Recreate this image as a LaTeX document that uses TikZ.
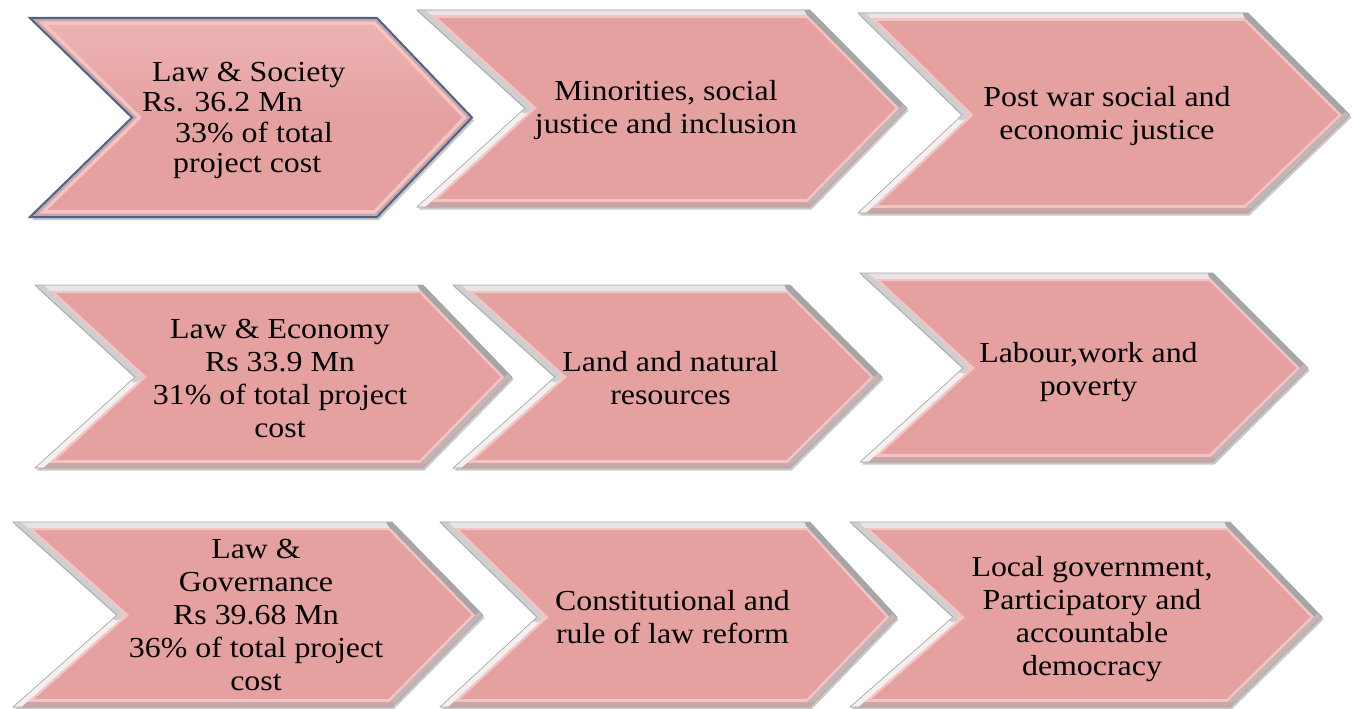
\documentclass[tikz,border=0pt]{standalone}
\usepackage{fontspec}
\setmainfont{Liberation Serif}[FakeStretch=1.1]
\definecolor{pinkc}{HTML}{E5A0A0}
\definecolor{pinktop}{HTML}{EDB4B4}
\definecolor{hilite}{HTML}{F4C4C4}
\definecolor{rimtop}{HTML}{EAE4E4}
\definecolor{rimdark}{HTML}{A6A6A6}
\definecolor{rimmid}{HTML}{C4B4B4}
\definecolor{rimbot}{HTML}{CBA6A6}
\definecolor{rimwhite}{HTML}{F4F0F0}
\definecolor{rimgray}{HTML}{CFCFCF}
\definecolor{navyc}{HTML}{4F6289}
\definecolor{shadowc}{HTML}{C8C8C8}
\tikzset{
  lbl/.style={align=center, inner sep=0pt, font=\fontsize{29}{33}\selectfont, text=black},
  lblA/.style={align=left, inner sep=0pt, font=\fontsize{29}{30.5}\selectfont, text=black},
  rim/.style={line width=11pt, line cap=round},
}
% #1 name, #2 xl, #3 yt, #4 yb, #5 notch x, #6 corner x, #7 tip x, #8 ym
\newcommand\chev[8]{%
  \coordinate (#1a) at (#2,#3);
  \coordinate (#1b) at (#6,#3);
  \coordinate (#1c) at (#7,#8);
  \coordinate (#1d) at (#6,#4);
  \coordinate (#1e) at (#2,#4);
  \coordinate (#1f) at (#5,#8);
  \fill[shadowc] ([shift={(1.5,2.5)}]#1a) -- ([shift={(1.5,2.5)}]#1b) -- ([shift={(1.5,2.5)}]#1c) -- ([shift={(1.5,2.5)}]#1d) -- ([shift={(1.5,2.5)}]#1e) -- ([shift={(1.5,2.5)}]#1f) -- cycle;
  \fill[pinkc] (#1a) -- (#1b) -- (#1c) -- (#1d) -- (#1e) -- (#1f) -- cycle;
  \begin{scope}
    \clip (#1a) -- (#1b) -- (#1c) -- (#1d) -- (#1e) -- (#1f) -- cycle;
    \draw[hilite, line width=16pt, line join=miter] (#1a) -- (#1b) -- (#1c) -- (#1d) -- (#1e) -- (#1f) -- cycle;
    \draw[rim, rimtop] (#1a) -- (#1b);
    \draw[rim, rimdark] (#1b) -- (#1c);
    \draw[rim, rimmid] (#1c) -- (#1d);
    \draw[rim, rimbot] (#1d) -- (#1e);
    \draw[rim, rimwhite] (#1e) -- (#1f);
    \draw[rim, rimgray] (#1f) -- (#1a);
  \end{scope}
  \draw[black!35, line width=0.6pt] (#1a) -- (#1b) -- (#1c) -- (#1d) -- (#1e) -- (#1f) -- cycle;
}
\newcommand\chevA[8]{%
  \coordinate (#1a) at (#2,#3);
  \coordinate (#1b) at (#6,#3);
  \coordinate (#1c) at (#7,#8);
  \coordinate (#1d) at (#6,#4);
  \coordinate (#1e) at (#2,#4);
  \coordinate (#1f) at (#5,#8);
  \fill[shadowc] ([shift={(2,3)}]#1a) -- ([shift={(2,3)}]#1b) -- ([shift={(2,3)}]#1c) -- ([shift={(2,3)}]#1d) -- ([shift={(2,3)}]#1e) -- ([shift={(2,3)}]#1f) -- cycle;
  \shade[top color=pinktop, bottom color=pinkc, middle color=pinkc] (#1a) -- (#1b) -- (#1c) -- (#1d) -- (#1e) -- (#1f) -- cycle;
  \begin{scope}
    \clip (#1a) -- (#1b) -- (#1c) -- (#1d) -- (#1e) -- (#1f) -- cycle;
    \draw[hilite, line width=14pt, line join=miter] (#1a) -- (#1b) -- (#1c) -- (#1d) -- (#1e) -- (#1f) -- cycle;
    \draw[rimbot, line width=7pt, line join=miter] (#1a) -- (#1b) -- (#1c) -- (#1d) -- (#1e) -- (#1f) -- cycle;
  \end{scope}
  \draw[navyc, line width=2pt, line join=miter] (#1a) -- (#1b) -- (#1c) -- (#1d) -- (#1e) -- (#1f) -- cycle;
}
\begin{document}
\begin{tikzpicture}[x=1pt, y=-1pt]
  \useasboundingbox (0,0) rectangle (1354,709);
  % row 1
  \chevA{c1}{30}{18}{217}{132}{377}{472}{117.5}
  \chev{c2}{417}{10}{207}{525}{810}{907}{108}
  \chev{c3}{858}{13}{213}{962}{1248}{1350}{115}
  % row 2
  \chev{c4}{35}{285}{468}{135}{423}{512}{377}
  \chev{c5}{453}{285}{468}{555}{790}{882}{377}
  \chev{c6}{860}{273}{462}{963}{1213}{1308}{368}
  % row 3
  \chev{c7}{13}{522}{707}{117}{392}{483}{615}
  \chev{c8}{440}{522}{707}{537}{810}{897}{617}
  \chev{c9}{850}{522}{707}{953}{1230}{1322}{617}
  % texts
  \node[lblA, anchor=north west] (t1) at (142,62) {\hspace*{10pt}Law \& Society\\Rs. 36.2 Mn\\\hspace*{33pt}33\% of total\\\hspace*{31pt}project cost};
  \node[lbl] (t2) at (666,110.5) {Minorities, social\\justice and inclusion};
  \node[lbl] (t3) at (1107,116.5) {Post war social and\\economic justice};
  \node[lbl] (t4) at (280,378) {Law \& Economy\\Rs 33.9 Mn\\31\% of total project\\cost};
  \node[lbl] (t5) at (670.5,378.5) {Land and natural\\resources};
  \node[lbl] (t6) at (1088.5,372.5) {Labour,work and\\poverty};
  \node[lbl] (t7) at (256,615) {Law \&\\Governance\\Rs 39.68 Mn\\36\% of total project\\cost};
  \node[lbl] (t8) at (672.5,617.5) {Constitutional and\\rule of law reform};
  \node[lbl] (t9) at (1092,619) {Local government,\\Participatory and\\accountable\\democracy};
\end{tikzpicture}
\end{document}
